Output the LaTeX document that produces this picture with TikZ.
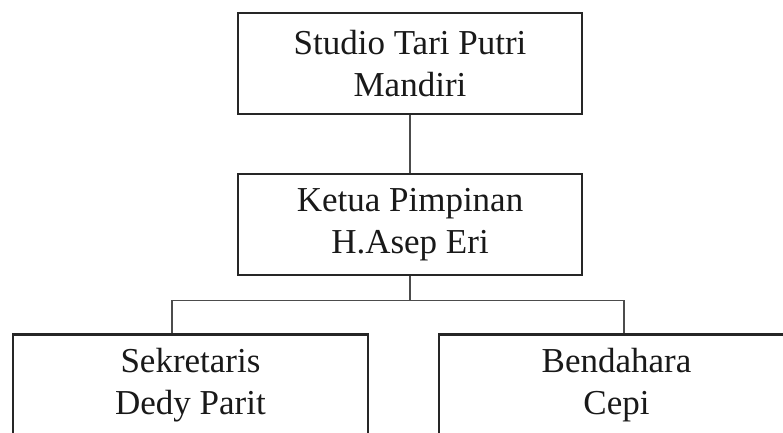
\documentclass[tikz,border=0pt]{standalone}
\usepackage{fontspec}
\setmainfont{Liberation Serif}
\usetikzlibrary{calc}

\tikzset{
  unit/.style={draw=black!85, line width=2.4pt, minimum width=344pt,
    minimum height=101pt, inner sep=0pt, align=center, text=black!90,
    font=\fontsize{35}{42}\selectfont},
  link/.style={draw=black!70, line width=1.2pt},
}

\begin{document}
\begin{tikzpicture}[x=1pt, y=1pt]
      \useasboundingbox (0,0) rectangle (783,-432);
      \clip (0,0) rectangle (783,-432);
      \fill[white] (0,0) rectangle (783,-432);
      \node[unit] (studio) at (410, -63.5) {Studio Tari Putri\\Mandiri};
      \node[unit] (ketua) at (410, -224.5) {Ketua Pimpinan\\H.Asep Eri};
      \node[unit, minimum width=355pt] (sekretaris) at (190.5, -385) {Sekretaris\\Dedy Parit};
      \node[unit, minimum width=355pt] (bendahara) at (616.5, -385) {Bendahara\\Cepi};
      \coordinate (bus) at ($(ketua.south)+(0,-24)$);
      \path[link] (studio) edge (ketua);
      \path[link] (ketua.south) edge (bus);
      \draw[link] (sekretaris.north -| 172,0) |- (bus) -| (bendahara.north -| 624,0);
    \end{tikzpicture}
\end{document}
